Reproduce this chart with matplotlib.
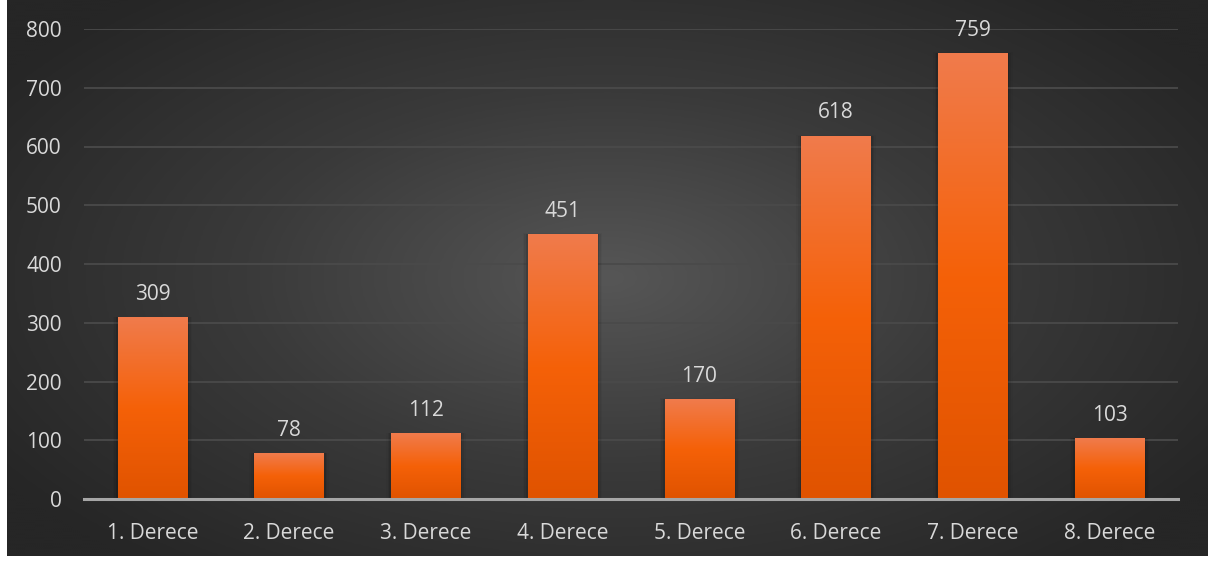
import numpy as np
import matplotlib
matplotlib.use("Agg")
import matplotlib.pyplot as plt
from matplotlib.colors import LinearSegmentedColormap

categories = ["1. Derece", "2. Derece", "3. Derece", "4. Derece",
              "5. Derece", "6. Derece", "7. Derece", "8. Derece"]
values = [309, 78, 112, 451, 170, 618, 759, 103]
yticks = [0, 100, 200, 300, 400, 500, 600, 700, 800]

W, H = 1210, 562
fig = plt.figure(figsize=(W / 100, H / 100), dpi=100, facecolor="white")

# dark radial-gradient panel
px0, px1, py0, py1 = 7, 1208, 0, 556
bg = fig.add_axes([px0 / W, 1 - py1 / H, (px1 - px0) / W, (py1 - py0) / H])
bg.set_axis_off()
yy, xx = np.mgrid[-1:1:300j, -1:1:600j]
r = np.sqrt(xx ** 2 + (yy * 0.9) ** 2)
r = np.clip(r / 1.2, 0, 1)
bg_cmap = LinearSegmentedColormap.from_list("bg", ["#565656", "#3a3a3a", "#262626"])
bg.imshow(r, cmap=bg_cmap, aspect="auto", extent=[0, 1, 0, 1], interpolation="bicubic")
bg.set_xlim(0, 1)
bg.set_ylim(0, 1)

# plot axes
ax_l, ax_r, ax_b, ax_t = 84, 1178, 499, 29
ax = fig.add_axes([ax_l / W, 1 - ax_b / H, (ax_r - ax_l) / W, (ax_b - ax_t) / H])
ax.patch.set_alpha(0)
x = np.arange(len(categories))
ax.set_xlim(-0.5, len(categories) - 0.5)
ax.set_ylim(0, 800)

for t in yticks[1:]:
    ax.axhline(t, color="#4a4a4a", lw=1.3, zorder=1)
ax.axhline(0, color="#a6a6a6", lw=2.2, zorder=4, clip_on=False)

bar_cmap = LinearSegmentedColormap.from_list(
    "bar", [(0.0, "#e05300"), (0.5, "#f56108"), (1.0, "#f07b4c")])
grad = np.linspace(0, 1, 256).reshape(-1, 1)
bars = ax.bar(x, values, width=0.51, color="none", zorder=3)
for b in bars:
    bx, by = b.get_x(), b.get_y()
    bw, bh = b.get_width(), b.get_height()
    # soft shadow
    for k, a in enumerate([0.10, 0.06, 0.03]):
        d = 0.012 * (k + 1)
        ax.add_patch(plt.Rectangle((bx - d, by), bw + 2 * d, bh + d * 800 / 8 * 0.3,
                                   color="black", alpha=a, lw=0, zorder=2))
    im = ax.imshow(grad, cmap=bar_cmap, origin="lower", aspect="auto",
                   extent=[bx, bx + bw, by, by + bh], zorder=3, interpolation="bicubic")
    im.set_clip_path(b)
ax.set_xlim(-0.5, len(categories) - 0.5)
ax.set_ylim(0, 800)

FS = 15
for xi, v in zip(x, values):
    ax.annotate(str(v), (xi, v), xytext=(0, 9), textcoords="offset points",
                ha="center", va="bottom", color="#d9d9d9", fontsize=FS,
                family="Open Sans", zorder=5)

ax.set_yticks(yticks)
ax.set_yticklabels([str(t) for t in yticks])
ax.set_xticks(x)
ax.set_xticklabels(categories)
ax.tick_params(axis="both", length=0, colors="#d9d9d9", labelsize=FS)
ax.tick_params(axis="y", pad=16)
ax.tick_params(axis="x", pad=17)
for lab in ax.get_xticklabels() + ax.get_yticklabels():
    lab.set_family("Open Sans")
for s in ax.spines.values():
    s.set_visible(False)

fig.savefig("out.png", dpi=100, facecolor="white")
